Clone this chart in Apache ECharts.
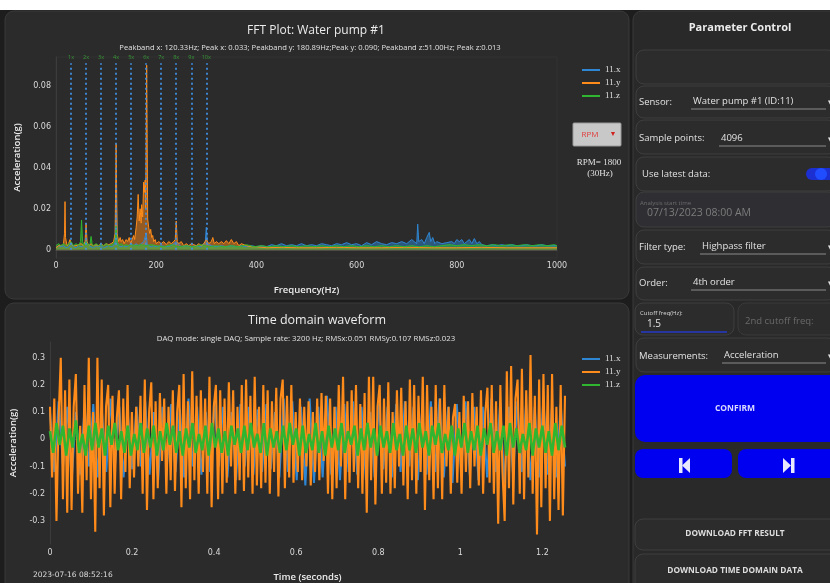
<!DOCTYPE html>
<html><head><meta charset="utf-8">
<script src="https://cdn.jsdelivr.net/npm/echarts@6/dist/echarts.min.js"></script>
<style>html,body{margin:0;padding:0;background:#1d1d1d;}#c{width:830px;height:583px;}</style>
</head><body><div id="c"></div>
<script>
// ---------- DATA ----------
const SERIES_NAMES = ['11.x', '11.y', '11.z'];

const FFT_TITLE = 'FFT Plot: Water pump #1';
const FFT_SUBTITLE = 'Peakband x: 120.33Hz; Peak x: 0.033; Peakband y: 180.89Hz;Peak y: 0.090; Peakband z:51.00Hz; Peak z:0.013';
const FFT_X_TICKS = [0, 200, 400, 600, 800, 1000];
const FFT_Y_TICKS = [0, 0.02, 0.04, 0.06, 0.08];
const HARMONIC_FREQ = [30, 60, 90, 120, 150, 180, 210, 240, 270, 300];
const HARMONIC_LABELS = ['1x','2x','3x','4x','5x','6x','7x','8x','9x','10x'];
const HARMONIC_TOP = 0.091;

// [frequency Hz, acceleration g]
const FFT_X = [[0,0.001],[5,0.002],[10,0.0015],[15,0.002],[20,0.001],[25,0.0015],[30,0.003],[35,0.0015],[40,0.001],[45,0.002],[50,0.0015],[55,0.002],[60,0.005],[65,0.002],[70,0.0015],[75,0.001],[80,0.002],[85,0.0015],[90,0.002],[95,0.001],[100,0.0015],[105,0.002],[110,0.0015],[115,0.002],[118,0.004],[120,0.033],[122,0.004],[125,0.002],[130,0.0015],[135,0.002],[140,0.0015],[145,0.002],[150,0.003],[155,0.002],[160,0.003],[165,0.002],[170,0.003],[175,0.004],[180,0.008],[182,0.003],[185,0.002],[190,0.0015],[195,0.002],[200,0.0015],[210,0.002],[220,0.0015],[230,0.002],[240,0.004],[250,0.0015],[260,0.002],[270,0.0015],[280,0.002],[290,0.0015],[298,0.004],[300,0.011],[302,0.003],[310,0.002],[320,0.0015],[330,0.002],[340,0.0015],[350,0.002],[360,0.0015],[370,0.002],[380,0.0015],[390,0.002],[400,0.0015],[410,0.002],[420,0.0015],[430,0.0025],[440,0.002],[450,0.003],[460,0.002],[470,0.0025],[480,0.002],[490,0.003],[500,0.002],[510,0.0025],[520,0.002],[530,0.003],[540,0.0025],[550,0.002],[560,0.003],[570,0.0025],[580,0.0035],[590,0.0025],[600,0.003],[610,0.002],[620,0.0035],[630,0.0025],[640,0.004],[650,0.003],[660,0.0025],[670,0.0035],[680,0.003],[690,0.004],[700,0.003],[710,0.005],[715,0.004],[720,0.003],[722,0.0125],[724,0.004],[730,0.005],[735,0.003],[740,0.006],[745,0.0085],[748,0.004],[752,0.006],[756,0.003],[760,0.004],[770,0.003],[780,0.0035],[790,0.004],[795,0.003],[800,0.005],[805,0.004],[810,0.005],[815,0.003],[820,0.004],[825,0.005],[830,0.003],[835,0.0055],[840,0.003],[845,0.004],[850,0.0025],[860,0.002],[870,0.0025],[880,0.002],[890,0.0025],[900,0.002],[910,0.0025],[920,0.002],[930,0.002],[940,0.0025],[950,0.002],[960,0.002],[970,0.0025],[980,0.002],[990,0.002],[1000,0.002]];

const FFT_Y = [[0,0.001],[5,0.002],[10,0.002],[15,0.003],[17,0.008],[18,0.0235],[19,0.006],[22,0.002],[25,0.003],[28,0.005],[30,0.003],[35,0.002],[40,0.002],[45,0.0025],[50,0.003],[55,0.002],[58,0.004],[60,0.013],[62,0.004],[65,0.002],[70,0.003],[75,0.002],[80,0.0025],[85,0.002],[90,0.003],[95,0.002],[100,0.003],[105,0.0025],[110,0.003],[115,0.004],[118,0.008],[120,0.0515],[122,0.008],[125,0.004],[128,0.006],[130,0.004],[133,0.005],[136,0.003],[140,0.005],[143,0.004],[146,0.006],[149,0.003],[152,0.005],[155,0.007],[157,0.005],[160,0.011],[162,0.016],[164,0.027],[166,0.014],[168,0.02],[170,0.013],[171,0.022],[173,0.016],[175,0.033],[176,0.028],[178,0.034],[179,0.02],[181,0.09],[183,0.015],[185,0.011],[187,0.008],[189,0.01],[191,0.006],[193,0.007],[195,0.004],[198,0.005],[200,0.003],[205,0.004],[210,0.003],[215,0.004],[220,0.0025],[225,0.004],[230,0.003],[235,0.004],[238,0.005],[240,0.014],[242,0.004],[245,0.003],[250,0.004],[255,0.002],[260,0.003],[265,0.002],[270,0.003],[275,0.0025],[280,0.002],[285,0.003],[290,0.002],[295,0.003],[300,0.005],[305,0.003],[310,0.004],[313,0.006],[316,0.003],[320,0.004],[325,0.003],[330,0.004],[335,0.003],[340,0.0045],[345,0.003],[350,0.005],[355,0.003],[360,0.004],[365,0.002],[370,0.003],[380,0.002],[390,0.0015],[400,0.0015],[420,0.001],[450,0.0012],[480,0.001],[520,0.001],[560,0.0012],[600,0.001],[650,0.001],[700,0.0012],[750,0.001],[800,0.001],[850,0.0012],[900,0.001],[950,0.001],[1000,0.001]];

const FFT_Z = [[0,0.002],[5,0.003],[10,0.002],[15,0.003],[20,0.002],[25,0.003],[30,0.004],[35,0.002],[40,0.003],[45,0.002],[49,0.004],[51,0.0145],[53,0.004],[56,0.002],[60,0.004],[65,0.002],[68,0.003],[70,0.0065],[72,0.003],[75,0.002],[80,0.003],[85,0.002],[90,0.0025],[95,0.002],[100,0.003],[105,0.002],[110,0.0025],[115,0.003],[118,0.005],[120,0.0115],[122,0.004],[125,0.002],[130,0.003],[135,0.002],[140,0.0025],[145,0.002],[150,0.0025],[160,0.002],[170,0.0025],[180,0.002],[190,0.0025],[200,0.002],[215,0.0015],[230,0.0025],[245,0.0015],[260,0.002],[275,0.0015],[290,0.0025],[305,0.0015],[320,0.002],[335,0.0015],[350,0.002],[365,0.0015],[380,0.0025],[395,0.0015],[410,0.002],[425,0.0015],[440,0.002],[455,0.0015],[470,0.002],[485,0.0015],[500,0.002],[515,0.0015],[530,0.002],[545,0.0015],[560,0.002],[575,0.0015],[590,0.002],[605,0.0015],[620,0.002],[635,0.0015],[650,0.002],[665,0.0015],[680,0.002],[695,0.0015],[710,0.002],[725,0.0015],[740,0.002],[755,0.0015],[770,0.002],[785,0.0025],[800,0.002],[815,0.0025],[830,0.002],[845,0.0025],[860,0.002],[875,0.0025],[890,0.002],[905,0.0025],[920,0.002],[935,0.0025],[950,0.002],[965,0.0025],[980,0.002],[995,0.0025],[1000,0.002]];

const TD_TITLE = 'Time domain waveform';
const TD_SUBTITLE = 'DAQ mode: single DAQ; Sample rate: 3200 Hz; RMSx:0.051 RMSy:0.107 RMSz:0.023';
const TD_TIMESTAMP = '2023-07-16 08:52:16';
const TD_X_TICKS = [0, 0.2, 0.4, 0.6, 0.8, 1.0, 1.2];
const TD_Y_TICKS = [-0.3, -0.2, -0.1, 0, 0.1, 0.2, 0.3];
const TD_DURATION = 1.255; // seconds shown

// acceleration (g), evenly spaced over TD_DURATION
const TD_X = [0.1,-0.12,0.14,-0.1,0.12,-0.15,0.1,-0.13,0.12,-0.1,
0.13,-0.14,0.1,-0.12,0.15,-0.1,0.12,-0.14,0.09,-0.11,
0.12,-0.1,0.14,-0.13,0.1,-0.15,0.12,-0.1,0.13,-0.12,
0.11,-0.14,0.15,-0.1,0.12,-0.13,0.1,-0.12,0.14,-0.1,
0.12,-0.14,0.1,-0.15,0.13,-0.1,0.12,-0.13,0.11,-0.12,
0.13,-0.11,0.1,-0.14,0.15,-0.12,0.14,-0.15,0.12,-0.17,
0.15,-0.16,0.12,-0.14,0.16,-0.13,0.12,-0.15,0.13,-0.12,
0.14,-0.13,0.12,-0.15,0.1,-0.14,0.13,-0.11,0.12,-0.14,
0.13,-0.12,0.14,-0.1,0.12,-0.15,0.11,-0.13,0.14,-0.12,
0.15,-0.14,0.12,-0.16,0.13,-0.12,0.14,-0.13,0.12,-0.15,
0.12,-0.14,0.15,-0.12,0.13,-0.16,0.12,-0.13,0.14,-0.12,
0.13,-0.15,0.12,-0.14,0.15,-0.13,0.12,-0.14,0.13,-0.1];

const TD_Y = [0.12,-0.14,0.15,-0.30,0.08,0.30,-0.22,0.18,-0.27,0.22,
-0.26,0.12,0.24,-0.2,0.05,-0.27,0.2,-0.15,0.3,-0.22,
0.1,-0.34,0.3,-0.18,0.22,-0.28,0.12,0.2,-0.25,0.16,
-0.2,0.08,0.18,-0.22,0.15,-0.12,0.2,-0.18,0.1,-0.14,
0.12,-0.1,0.16,-0.2,0.22,-0.26,0.1,0.21,-0.22,0.14,
-0.18,0.17,-0.08,0.15,-0.2,0.12,-0.15,0.18,-0.19,0.1,
0.2,-0.25,0.24,-0.18,0.14,-0.22,0.25,-0.15,0.16,-0.2,
0.18,-0.12,0.15,-0.2,0.23,-0.25,0.12,0.2,-0.22,0.18,
-0.2,0.15,-0.16,0.21,-0.1,0.18,-0.2,0.12,-0.15,0.2,
-0.19,0.22,-0.14,0.16,-0.2,0.23,-0.17,0.12,-0.18,0.2,
-0.16,0.18,-0.2,0.14,-0.12,0.19,-0.21,0.15,0.22,-0.18,
0.16,-0.14,0.2,-0.16,0.1,-0.12,0.15,-0.15,0.12,-0.1,
0.14,-0.17,0.1,-0.12,0.15,-0.15,0.17,-0.08,0.16,-0.2,
0.15,-0.22,0.12,-0.18,0.2,-0.1,0.23,-0.22,0.14,-0.16,
0.18,-0.12,0.2,-0.18,0.13,-0.2,0.17,-0.27,0.23,-0.15,
0.23,-0.24,0.12,0.2,-0.2,0.15,-0.16,0.21,-0.2,0.1,
-0.18,0.18,-0.1,0.19,-0.17,0.14,-0.22,0.22,-0.15,0.2,
-0.2,0.16,-0.12,0.23,-0.26,0.2,-0.15,0.12,-0.22,0.2,
-0.18,0.15,-0.22,0.2,-0.1,0.12,-0.2,0.08,0.13,-0.16,
0.1,-0.2,0.16,-0.12,0.14,-0.18,0.17,-0.1,0.12,-0.17,
0.18,-0.2,0.1,0.19,-0.16,0.2,-0.2,0.14,-0.31,0.2,
-0.12,-0.3,0.25,-0.18,0.27,-0.24,0.15,0.22,-0.2,0.26,
-0.22,0.18,-0.14,0.31,-0.2,0.16,-0.35,0.22,-0.25,0.24,
-0.18,0.2,-0.3,0.24,-0.22,0.12,-0.26,0.2,-0.28,0.16];

const TD_Z = [0.03,-0.05,0.06,-0.02,0.05,-0.06,0.04,-0.03,0.07,-0.05,
0.02,-0.06,0.05,-0.04,0.06,-0.03,0.04,-0.06,0.05,-0.02,
0.06,-0.04,0.03,-0.05,0.05,-0.06,0.02,-0.04,0.06,-0.05,
0.04,-0.03,0.05,-0.06,0.03,-0.04,0.06,-0.02,0.05,-0.05,
0.03,-0.06,0.04,-0.03,0.06,-0.05,0.02,-0.04,0.05,-0.06,
0.06,-0.03,0.04,-0.05,0.03,-0.06,0.05,-0.02,0.04,-0.05,
0.05,-0.04,0.06,-0.03,0.02,-0.05,0.06,-0.06,0.04,-0.03,
0.03,-0.05,0.05,-0.04,0.06,-0.02,0.04,-0.06,0.05,-0.05,
0.02,-0.04,0.06,-0.05,0.03,-0.06,0.05,-0.03,0.04,-0.04,
0.06,-0.05,0.03,-0.02,0.05,-0.06,0.04,-0.04,0.06,-0.03,
0.04,-0.06,0.05,-0.03,0.03,-0.05,0.06,-0.04,0.02,-0.06,
0.05,-0.04,0.04,-0.05,0.06,-0.03,0.03,-0.06,0.05,-0.02,
0.06,-0.05,0.02,-0.04,0.05,-0.06,0.04,-0.03,0.06,-0.05,
0.03,-0.04,0.05,-0.06,0.04,-0.02,0.06,-0.05,0.03,-0.04,
0.05,-0.06,0.06,-0.03,0.04,-0.05,0.02,-0.04,0.06,-0.06,
0.04,-0.03,0.05,-0.05,0.03,-0.06,0.06,-0.04,0.05,-0.03];

const RPM_TEXT = ['RPM= 1800', '(30Hz)'];

// ---------- STYLE ----------
const C_X = '#2f86d2', C_Y = '#ff8c1a', C_Z = '#2fb52f';
const UI_FONT = '"Open Sans", "Noto Sans", sans-serif';
const TICK_FONT = '"DejaVu Sans", sans-serif';
const SERIF = '"Liberation Serif", serif';

function timed(arr) { return arr.map((v, i) => [i * TD_DURATION / (arr.length - 1), v]); }

function rect(x, y, w, h, r, fill, stroke) {
  return { type: 'rect', z: -5, silent: true, shape: { x, y, width: w, height: h, r },
    style: { fill, stroke: stroke || null, lineWidth: 1 } };
}
function txt(x, y, text, o) {
  o = o || {};
  return { type: 'text', z: 5, silent: true, x, y,
    style: { text, fill: o.fill || '#e2e2e2', font: o.font || ('10px ' + UI_FONT),
      align: o.align || 'left', verticalAlign: 'middle', textAlign: o.align || 'left', textVerticalAlign: 'middle' } };
}
function hline(x1, x2, y, color, w) {
  return { type: 'line', z: 4, silent: true, shape: { x1, y1: y, x2, y2: y }, style: { stroke: color, lineWidth: w || 1 } };
}

const graphics = [
  rect(0, 0, 830, 10, 0, '#ffffff'),
  rect(5, 11, 624, 288, 9, '#2b2b2b', '#3a3a3a'),
  rect(5, 303, 624, 292, 9, '#2b2b2b', '#3a3a3a'),
  rect(633, 11, 210, 590, 9, '#292929', '#3a3a3a'),
  // titles
  txt(316, 31, FFT_TITLE, { align: 'center', font: '12px ' + UI_FONT, fill: '#ececec' }),
  txt(310, 48, FFT_SUBTITLE, { align: 'center', font: '7.6px ' + UI_FONT, fill: '#e0e0e0' }),
  txt(317, 320, TD_TITLE, { align: 'center', font: '12.5px ' + UI_FONT, fill: '#ececec' }),
  txt(306, 339, TD_SUBTITLE, { align: 'center', font: '7.8px ' + UI_FONT, fill: '#e0e0e0' }),
  txt(33, 575, TD_TIMESTAMP, { font: '7.5px ' + TICK_FONT, fill: '#dcdcdc' }),
  // RPM control
  rect(573, 123, 48, 23, 1, '#c8c8c8', '#9a9a9a'),
  txt(590, 134.5, 'RPM', { align: 'center', font: '8px ' + UI_FONT, fill: '#e23a3a' }),
  txt(613, 133.5, '▼', { align: 'center', font: '7px ' + UI_FONT, fill: '#d02020' }),
  txt(599, 163, RPM_TEXT[0], { align: 'center', font: '9px ' + SERIF, fill: '#e0e0e0' }),
  txt(600, 174, RPM_TEXT[1], { align: 'center', font: '9px ' + SERIF, fill: '#e0e0e0' }),
  // right panel
  txt(740, 28, 'Parameter Control', { align: 'center', font: 'bold 11px ' + UI_FONT, fill: '#ececec' }),
  rect(636, 50, 200, 34, 8, '#2c2c2c', '#3f3f3f'),
  rect(636, 86, 200, 32, 8, '#2c2c2c', '#3f3f3f'),
  txt(639, 102, 'Sensor:', { font: '9.5px ' + UI_FONT }),
  txt(693, 101, 'Water pump #1 (ID:11)', { font: '9.5px ' + UI_FONT }),
  hline(691, 826, 109, '#8a8a8a'),
  txt(828, 102, '▾', { font: '9px ' + UI_FONT }),
  rect(636, 120, 200, 34, 8, '#2c2c2c', '#3f3f3f'),
  txt(639, 138, 'Sample points:', { font: '9.5px ' + UI_FONT }),
  txt(721, 138, '4096', { font: '9.5px ' + UI_FONT }),
  hline(719, 826, 146, '#8a8a8a'),
  txt(828, 139, '▾', { font: '9px ' + UI_FONT }),
  rect(636, 157, 200, 34, 8, '#2c2c2c', '#3f3f3f'),
  txt(642, 174, 'Use latest data:', { font: '9.5px ' + UI_FONT }),
  rect(806, 168, 30, 12, 6, '#1c2fd0'),
  { type: 'circle', z: 5, silent: true, shape: { cx: 821, cy: 174, r: 6 }, style: { fill: '#1f4dff' } },
  rect(636, 192, 200, 35, 8, '#2e2e33', '#3f3f3f'),
  txt(640, 203, 'Analysis start time', { font: '6px ' + UI_FONT, fill: '#6e6e6e' }),
  txt(647, 213, '07/13/2023 08:00 AM', { font: '10.5px ' + UI_FONT, fill: '#7c7c7c' }),
  rect(636, 230, 200, 34, 8, '#2c2c2c', '#3f3f3f'),
  txt(639, 247, 'Filter type:', { font: '9.5px ' + UI_FONT }),
  txt(702, 246, 'Highpass filter', { font: '9.5px ' + UI_FONT }),
  hline(700, 826, 254, '#8a8a8a'),
  txt(828, 247, '▾', { font: '9px ' + UI_FONT }),
  rect(636, 267, 200, 33, 8, '#2c2c2c', '#3f3f3f'),
  txt(639, 283, 'Order:', { font: '9.5px ' + UI_FONT }),
  txt(693, 282, '4th order', { font: '9.5px ' + UI_FONT }),
  hline(691, 826, 290, '#8a8a8a'),
  txt(828, 283, '▾', { font: '9px ' + UI_FONT }),
  rect(635, 303, 99, 32, 8, '#2c2c2c', '#3f3f3f'),
  txt(640, 313, 'Cutoff freq(Hz):', { font: '6px ' + UI_FONT, fill: '#d8d8d8' }),
  txt(647, 324, '1.5', { font: '10px ' + UI_FONT }),
  hline(641, 727, 332, '#2638c8', 1.5),
  rect(738, 303, 100, 32, 8, '#2c2c2c', '#3a3a3a'),
  txt(745, 321, '2nd cutoff freq:', { font: '9.5px ' + UI_FONT, fill: '#6a6a6a' }),
  rect(636, 338, 200, 34, 8, '#2c2c2c', '#3f3f3f'),
  txt(639, 356, 'Measurements:', { font: '9.5px ' + UI_FONT }),
  txt(724, 355, 'Acceleration', { font: '9.5px ' + UI_FONT }),
  hline(722, 826, 363, '#8a8a8a'),
  txt(828, 356, '▾', { font: '9px ' + UI_FONT }),
  rect(635, 375, 205, 67, 10, '#0000f0'),
  txt(735, 409, 'CONFIRM', { align: 'center', font: 'bold 8.5px ' + UI_FONT, fill: '#dcdcff' }),
  rect(635, 449, 97, 29, 8, '#0000f0'),
  rect(738, 449, 100, 29, 8, '#0000f0'),
  rect(679, 458, 3.5, 15, 0, '#e8e8ff'),
  { type: 'polygon', z: 5, silent: true, shape: { points: [[690, 458], [690, 473], [682, 465.5]] }, style: { fill: '#e8e8ff' } },
  { type: 'polygon', z: 5, silent: true, shape: { points: [[783, 458], [783, 473], [791, 465.5]] }, style: { fill: '#e8e8ff' } },
  rect(791, 458, 3.5, 15, 0, '#e8e8ff'),
  rect(635, 519, 205, 31, 8, '#2c2c2c', '#3f3f3f'),
  txt(735, 534, 'DOWNLOAD FFT RESULT', { align: 'center', font: 'bold 8.3px ' + UI_FONT, fill: '#dedede' }),
  rect(635, 554, 205, 40, 8, '#2c2c2c', '#3f3f3f'),
  txt(735, 571, 'DOWNLOAD TIME DOMAIN DATA', { align: 'center', font: 'bold 8.3px ' + UI_FONT, fill: '#dedede' })
];

const axisLabelStyle = { color: '#dadada', fontSize: 8, fontFamily: TICK_FONT };
const nameStyle = { color: '#ececec', fontSize: 9.5, fontFamily: UI_FONT, fontWeight: 600 };
const legendBase = {
  orient: 'vertical', left: 577, itemWidth: 18, itemHeight: 2, itemGap: 2, icon: 'rect',
  data: SERIES_NAMES, selectedMode: false,
  textStyle: { color: '#e0e0e0', fontSize: 9, fontFamily: SERIF, lineHeight: 11 }
};

function fftSeries(name, data, color, extra) {
  return Object.assign({
    name, type: 'line', xAxisIndex: 0, yAxisIndex: 0, data, symbol: 'none', animation: false,
    lineStyle: { width: 1, color }, itemStyle: { color }, areaStyle: { color, opacity: 0.5 }
  }, extra || {});
}
function tdSeries(name, data, color, w) {
  return { name, type: 'line', xAxisIndex: 1, yAxisIndex: 1, data: timed(data), symbol: 'none', animation: false,
    lineStyle: { width: w, color, join: 'bevel' }, itemStyle: { color } };
}

const option = {
  backgroundColor: '#1d1d1d',
  animation: false,
  color: [C_X, C_Y, C_Z],
  graphic: { elements: graphics },
  legend: [Object.assign({ top: 59.5 }, legendBase), Object.assign({ top: 348.5 }, legendBase)],
  grid: [
    { left: 56, top: 57, width: 501, height: 201, show: true, borderColor: '#333333', borderWidth: 1, backgroundColor: 'transparent' },
    { left: 50, top: 342, width: 515, height: 205, show: false }
  ],
  xAxis: [
    { type: 'value', gridIndex: 0, min: 0, max: 1000, name: 'Frequency(Hz)', nameLocation: 'middle', nameGap: 27,
      nameTextStyle: nameStyle,
      axisLine: { show: true, lineStyle: { color: '#4e4a44' } }, axisTick: { show: false },
      axisLabel: Object.assign({ customValues: FFT_X_TICKS, margin: 4, formatter: v => String(v) }, axisLabelStyle),
      splitLine: { show: false } },
    { type: 'value', gridIndex: 1, min: 0, max: TD_DURATION, name: 'Time (seconds)', nameLocation: 'middle', nameGap: 28,
      nameTextStyle: nameStyle,
      axisLine: { show: true, lineStyle: { color: '#4a4a4a' } }, axisTick: { show: false },
      axisLabel: Object.assign({ customValues: TD_X_TICKS, margin: 5, formatter: v => String(+v.toFixed(1)) }, axisLabelStyle),
      splitLine: { show: false } }
  ],
  yAxis: [
    { type: 'value', gridIndex: 0, min: -0.004, max: 0.094, name: 'Acceleration(g)', nameLocation: 'middle', nameGap: 27,
      nameTextStyle: nameStyle,
      axisLine: { show: true, lineStyle: { color: '#3c3c3c' } }, axisTick: { show: false },
      axisLabel: Object.assign({ customValues: FFT_Y_TICKS, margin: 5, formatter: v => v === 0 ? '0' : v.toFixed(2) }, axisLabelStyle),
      splitLine: { show: false } },
    { type: 'value', gridIndex: 1, min: -0.385, max: 0.358, name: 'Acceleration(g)', nameLocation: 'middle', nameGap: 26,
      nameTextStyle: nameStyle,
      axisLine: { show: true, lineStyle: { color: '#3c3c3c' } }, axisTick: { show: false },
      axisLabel: Object.assign({ customValues: TD_Y_TICKS, margin: 5, formatter: v => v === 0 ? '0' : String(+v.toFixed(1)) }, axisLabelStyle),
      splitLine: { show: false } }
  ],
  series: [
    fftSeries('11.x', FFT_X, C_X),
    fftSeries('11.y', FFT_Y, C_Y),
    fftSeries('11.z', FFT_Z, C_Z, {
      markLine: {
        silent: true, symbol: 'none', animation: false,
        lineStyle: { color: '#3f8ee0', type: [2, 3], width: 2, opacity: 0.9 },
        label: { show: true, position: 'end', distance: 3, color: '#3aa63a', fontSize: 5.5, fontFamily: UI_FONT,
          formatter: p => HARMONIC_LABELS[p.dataIndex] },
        data: HARMONIC_FREQ.map(f => [{ coord: [f, 0] }, { coord: [f, HARMONIC_TOP] }])
      }
    }),
    tdSeries('11.x', TD_X, C_X, 2),
    tdSeries('11.y', TD_Y, C_Y, 2.1),
    tdSeries('11.z', TD_Z, C_Z, 2.6)
  ]
};

const chart = echarts.init(document.getElementById('c'), null, { renderer: 'canvas' });
chart.setOption(option);
</script>
</body></html>
